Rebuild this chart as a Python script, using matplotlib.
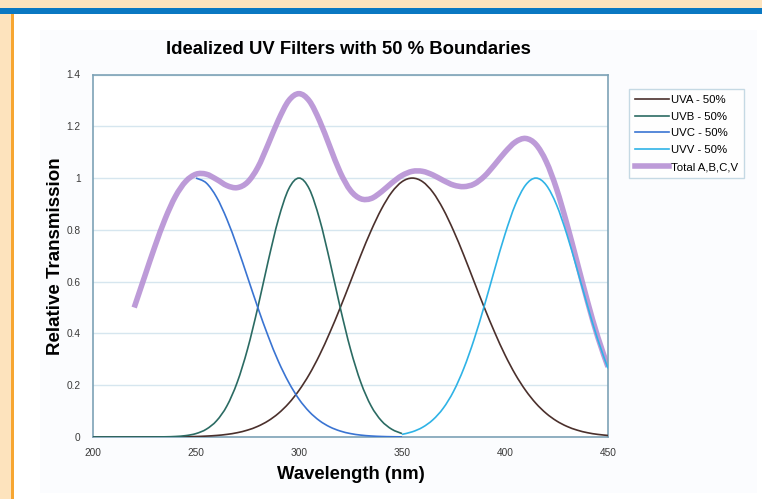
import matplotlib
matplotlib.use("Agg")
import matplotlib.pyplot as plt
import numpy as np
from matplotlib.patches import Rectangle, PathPatch
from matplotlib.path import Path
from matplotlib.lines import Line2D

plt.rcParams['font.family'] = ['Liberation Sans', 'DejaVu Sans']

# ---- data ----
wl_a = list(range(200, 451, 5))
uva = [0.000, 0.000, 0.000, 0.000, 0.000, 0.0001, 0.0001, 0.0003, 0.0006, 0.0011,
       0.0019, 0.0035, 0.0060, 0.0101, 0.0166, 0.0266, 0.0412, 0.0622, 0.0912, 0.130,
       0.180, 0.242, 0.317, 0.404, 0.499, 0.600, 0.702, 0.797, 0.880, 0.945,
       0.986, 1.000, 0.986, 0.945, 0.880, 0.797, 0.702, 0.600, 0.499, 0.404,
       0.317, 0.242, 0.180, 0.130, 0.0912, 0.0622, 0.0412, 0.0266, 0.0166, 0.0101,
       0.0060]

wl_b = list(range(200, 351, 5))
uvb = [0.0, 0.0, 0.0, 0.0, 0.0, 0.0001, 0.0002, 0.0007, 0.0020, 0.0053,
       0.0132, 0.0301, 0.0628, 0.120, 0.211, 0.339, 0.500, 0.678, 0.841, 0.958,
       1.000, 0.958, 0.841, 0.678, 0.500, 0.339, 0.211, 0.120, 0.0628, 0.0301,
       0.0132]

wl_c = list(range(250, 351, 5))
uvc = [1.000, 0.981, 0.926, 0.841, 0.735, 0.618, 0.500, 0.390, 0.292, 0.211,
       0.146, 0.0976, 0.0627, 0.0388, 0.0231, 0.0132, 0.0073, 0.0039, 0.0020, 0.0010,
       0.0005]

wl_v = list(range(350, 451, 5))
uvv = [0.0102, 0.0201, 0.0376, 0.0665, 0.111, 0.176, 0.265, 0.377, 0.508, 0.648,
       0.783, 0.897, 0.973, 1.000, 0.973, 0.897, 0.783, 0.648, 0.508, 0.377,
       0.265]

wl_t = list(range(220, 451, 5))
total = [0.500, 0.618, 0.735, 0.842, 0.929, 0.987, 1.015, 1.015, 0.995, 0.971,
         0.963, 0.984, 1.041, 1.130, 1.224, 1.299, 1.326, 1.298, 1.221, 1.121,
         1.022, 0.952, 0.920, 0.921, 0.947, 0.981, 1.010, 1.026, 1.026, 1.012,
         0.991, 0.973, 0.967, 0.977, 1.007, 1.052, 1.100, 1.139, 1.153, 1.130,
         1.064, 0.959, 0.824, 0.675, 0.525, 0.387, 0.271]

series_labels = ["UVA - 50%", "UVB - 50%", "UVC - 50%", "UVV - 50%", "Total A,B,C,V"]
x_ticks = [200, 250, 300, 350, 400, 450]
y_ticks = [0, 0.2, 0.4, 0.6, 0.8, 1, 1.2, 1.4]
y_ticklabels = ["0", "0.2", "0.4", "0.6", "0.8", "1", "1.2", "1.4"]


def smooth_line(ax, xs, ys, **kw):
    """Draw a spreadsheet-style smoothed line (Catmull-Rom as cubic Bezier path)
    passing through the data points."""
    p = np.column_stack([xs, ys]).astype(float)
    n = len(p)
    verts = [tuple(p[0])]
    codes = [Path.MOVETO]
    for i in range(n - 1):
        p0 = p[i - 1] if i > 0 else p[i]
        p1 = p[i]
        p2 = p[i + 1]
        p3 = p[i + 2] if i + 2 < n else p[i + 1]
        c1 = p1 + (p2 - p0) / 6.0
        c2 = p2 - (p3 - p1) / 6.0
        verts += [tuple(c1), tuple(c2), tuple(p2)]
        codes += [Path.CURVE4] * 3
    patch = PathPatch(Path(verts, codes), facecolor="none", **kw)
    ax.add_patch(patch)
    return patch


# ---- figure ----
fig = plt.figure(figsize=(7.62, 4.99), dpi=100)
fig.patch.set_facecolor("white")

# decorative frame: peach margins, blue top band, orange left rule, faint chart area
fig.add_artist(Rectangle((40 / 762, 1 - 493 / 499), 717 / 762, 463 / 499,
                         transform=fig.transFigure, facecolor="#fbfcfe",
                         edgecolor="none", zorder=0))
fig.add_artist(Rectangle((0, 0), 11 / 762, 1, transform=fig.transFigure,
                         facecolor="#fde3bd", edgecolor="none", zorder=0))
fig.add_artist(Rectangle((0, 1 - 8 / 499), 1, 8 / 499, transform=fig.transFigure,
                         facecolor="#fde3bd", edgecolor="none", zorder=0))
fig.add_artist(Rectangle((0, 1 - 14 / 499), 1, 6 / 499, transform=fig.transFigure,
                         facecolor="#0a78c2", edgecolor="none", zorder=1))
fig.add_artist(Rectangle((11 / 762, 0), 2.5 / 762, 1 - 14 / 499, transform=fig.transFigure,
                         facecolor="#f7a631", edgecolor="none", zorder=1))

ax = fig.add_axes([93 / 762, 1 - 437 / 499, (608 - 93) / 762, (437 - 74.5) / 499])
ax.set_facecolor("white")

styles = [
    dict(edgecolor="#4b302c", linewidth=1.2, zorder=3),
    dict(edgecolor="#2b6b63", linewidth=1.2, zorder=3),
    dict(edgecolor="#3a74d2", linewidth=1.2, zorder=3),
    dict(edgecolor="#2fb3e6", linewidth=1.2, zorder=3),
    dict(edgecolor="#b690d4", linewidth=4, alpha=0.9, zorder=2, capstyle="butt"),
]
series = [(wl_a, uva), (wl_b, uvb), (wl_c, uvc), (wl_v, uvv), (wl_t, total)]
handles = []
for (xs, ys), st in zip(series, styles):
    smooth_line(ax, xs, ys, **st)
    handles.append(Line2D([], [], color=st["edgecolor"], lw=st["linewidth"],
                          alpha=st.get("alpha", 1)))

ax.set_xlim(200, 450)
ax.set_ylim(0, 1.4)
ax.set_xticks(x_ticks)
ax.set_xticklabels([str(t) for t in x_ticks])
ax.set_yticks(y_ticks)
ax.set_yticklabels(y_ticklabels)
ax.tick_params(axis="both", length=0, labelsize=7.3, colors="#3a3a3a")
ax.tick_params(axis="x", pad=8)
ax.tick_params(axis="y", pad=9)
ax.grid(axis="y", color="#d6e6ef", lw=1)
ax.set_axisbelow(True)
for s in ax.spines.values():
    s.set_color("#7da2b6")
    s.set_linewidth(1.2)

ax.set_xlabel("Wavelength (nm)", fontsize=13.3, fontweight="bold", labelpad=6)
ax.set_ylabel("Relative Transmission", fontsize=13.5, fontweight="bold", labelpad=2)
fig.text(348 / 762, 1 - 49 / 499, "Idealized UV Filters with 50 % Boundaries",
         ha="center", va="center", fontsize=13.3, fontweight="bold")

leg = fig.legend(handles=handles, labels=series_labels,
                 loc="upper left", bbox_to_anchor=(629 / 762, 1 - 89 / 499),
                 fontsize=8.2, frameon=True, fancybox=False, handlelength=3.0,
                 handletextpad=0.2, borderpad=0.5, labelspacing=0.6,
                 borderaxespad=0)
leg.get_frame().set_edgecolor("#b8d0de")
leg.get_frame().set_linewidth(1)

fig.savefig("out.png", dpi=100)
